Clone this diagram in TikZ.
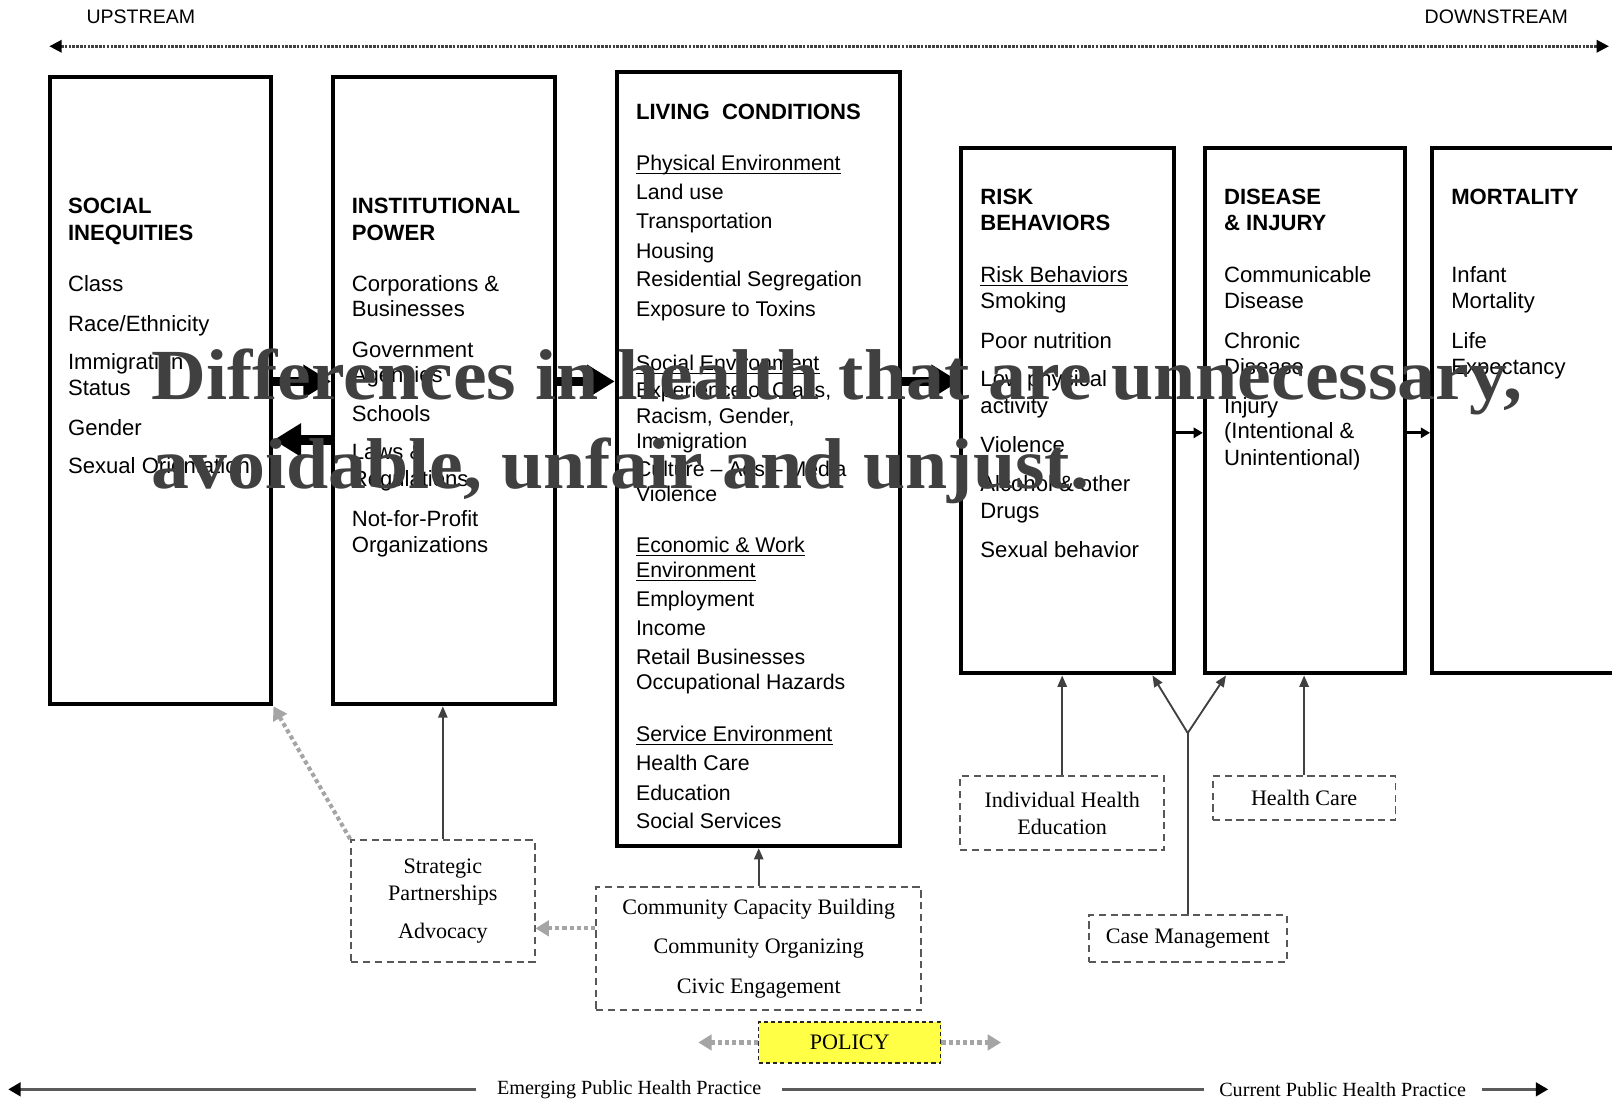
\documentclass[tikz,border=0pt]{standalone}
\usepackage{fontspec}
\usepackage{graphicx}
\setmainfont{Liberation Serif}
\newfontfamily\sansfam{Liberation Sans}
\usetikzlibrary{arrows.meta}

\definecolor{inkgray}{RGB}{64,64,64}
\definecolor{boxdash}{RGB}{88,88,88}
\definecolor{dotgray}{RGB}{165,165,165}
\definecolor{linegray}{RGB}{90,90,90}
\definecolor{policyfill}{RGB}{255,255,70}
\definecolor{claimgray}{RGB}{64,64,64}

\newcommand{\bodyfont}{\sansfam\fontsize{21.5}{26}\selectfont}
\newcommand{\livingfont}{\sansfam\fontsize{20.7}{26}\selectfont}
\newcommand{\serifbox}{\rmfamily\fontsize{21.5}{26}\selectfont}

\begin{document}
\begin{tikzpicture}[x=1pt,y=-1pt,
  stagebox/.style={draw=black, line width=4pt, inner sep=0pt, outer sep=2pt},
  txt/.style={anchor=base west, inner sep=0pt, font=\bodyfont},
  ltxt/.style={anchor=base west, inner sep=0pt, font=\livingfont},
  uline/.style={line width=1.1pt},
  bigarrow/.style={line width=9pt, -{Triangle[length=27pt,width=31pt]}},
  smallarrow/.style={line width=2.6pt, -{Triangle[length=9pt,width=10pt]}},
  conn/.style={draw=inkgray, line width=1.8pt, -{Triangle[length=11pt,width=9pt]}},
  connline/.style={draw=inkgray, line width=1.8pt},
  dotarrow/.style={draw=dotgray, line width=4pt, dash pattern=on 4pt off 3pt,
    -{Triangle[length=13pt,width=15pt]}},
  actbox/.style={draw=boxdash, line width=1.8pt, dash pattern=on 7pt off 4.5pt,
    align=center, inner sep=0pt, font=\serifbox},
  rail/.style={draw=linegray, line width=3.5pt},
  railtip/.style={-{Triangle[length=12pt,width=13pt,color=black]}},
  railtext/.style={font=\rmfamily\fontsize{19.6}{22}\selectfont, inner ysep=0pt},
  streamlbl/.style={font=\sansfam\fontsize{19}{22}\selectfont, inner sep=0pt},
  claim/.style={anchor=base west, inner sep=0pt, text=claimgray,
    font=\rmfamily\bfseries\fontsize{70}{80}\selectfont}
]
\useasboundingbox (0,0) rectangle (1568,1072);
\clip (0,0) rectangle (1568,1072);

% ---- upstream / downstream axis
\coordinate (upL) at (48,45);
\coordinate (upR) at (1565,45);
\draw[draw=inkgray, line width=2.4pt, dash pattern=on 2.5pt off 1.2pt,
  {Triangle[length=12pt,width=12pt,color=black]}-{Triangle[length=12pt,width=12pt,color=black]}]
  (upL) -- (upR);
\node[streamlbl] (up) at (137,16) {UPSTREAM};
\node[streamlbl] (down) at (1455.5,16) {DOWNSTREAM};

% ---- the six stages
\node[stagebox, minimum width=215pt, minimum height=610pt] (b1) at (156.5,380) {};
\node[stagebox, minimum width=216pt, minimum height=610pt] (b2) at (432,380) {};
\node[stagebox, minimum width=275pt, minimum height=753pt] (b3) at (737.5,446.5) {};
\node[stagebox, minimum width=207pt, minimum height=511pt] (b4) at (1038.5,399.5) {};
\node[stagebox, minimum width=195pt, minimum height=511pt] (b5) at (1269.5,399.5) {};
\node[stagebox, minimum width=230pt, minimum height=511pt] (b6) at (1508,399.5) {};

% Social inequities
\foreach[count=\i] \y/\lbl in {207.5/{\bfseries SOCIAL}, 233.5/{\bfseries INEQUITIES},
  283.5/Class, 322/{Race/Ethnicity}, 359/Immigration, 385/Status, 423.5/Gender,
  461/{Sexual Orientation}}
  \node[txt] (si\i) at (66,\y) {\lbl};

% Institutional power
\foreach[count=\i] \y/\lbl in {207.5/{\bfseries INSTITUTIONAL}, 233.5/{\bfseries POWER},
  283.5/{Corporations \&}, 308/Businesses, 348/Government, 372.5/Agencies,
  409.5/Schools, 447/{Laws \&}, 473/Regulations, 512/Not-for-Profit, 537/Organizations}
  \node[txt] (ip\i) at (342,\y) {\lbl};

% Living conditions
\node[anchor=base west, inner sep=0pt, font=\sansfam\bfseries\fontsize{21.5}{26}\selectfont]
  (lchead) at (618.5,116.5) {LIVING\ \ CONDITIONS};
\foreach[count=\i] \y/\lbl/\u in {165.5/Physical Environment/1, 194.5/Land use/0,
  222.5/Transportation/0, 251/Housing/0, 279/Residential Segregation/0,
  308/Exposure to Toxins/0, 360/Social Environment/1, 387/{Experience of Class,}/0,
  411.5/{Racism, Gender,}/0, 436.5/Immigration/0, 463/{Culture – Ads – Media}/0,
  488/Violence/0, 537.5/{Economic \& Work}/1, 561.5/Environment/1,
  590/Employment/0, 618.5/Income/0, 646.5/Retail Businesses/0,
  670.5/Occupational Hazards/0, 721.5/Service Environment/1, 749/Health Care/0,
  778.5/Education/0, 805.5/Social Services/0}
{
  \node[ltxt] (lc\i) at (618.5,\y) {\lbl};
  \ifnum\u=1
    \draw[uline] ([yshift=-3pt]lc\i.base west) -- ([yshift=-3pt]lc\i.base east);
  \fi
}

% Risk behaviors
\foreach[count=\i] \y/\lbl/\u in {199/{\bfseries RISK}/0, 224/{\bfseries BEHAVIORS}/0,
  275/Risk Behaviors/1, 300.5/Smoking/0, 338.5/Poor nutrition/0,
  375.5/Low physical/0, 402/activity/0, 440/Violence/0, 478/{Alcohol \& other}/0,
  504/Drugs/0, 542.5/Sexual behavior/0}
{
  \node[txt] (rb\i) at (953.5,\y) {\lbl};
  \ifnum\u=1
    \draw[uline] ([yshift=-3pt]rb\i.base west) -- ([yshift=-3pt]rb\i.base east);
  \fi
}

% Disease and injury
\foreach[count=\i] \y/\lbl in {199/{\bfseries DISEASE}, 224/{\bfseries \& INJURY},
  275/Communicable, 300.5/Disease, 338.5/Chronic, 364/Disease, 402/Injury,
  426.5/(Intentional \&, 452.5/Unintentional)}
  \node[txt] (di\i) at (1190.5,\y) {\lbl};

% Mortality
\foreach[count=\i] \y/\lbl in {199/{\bfseries MORTALITY}, 275/Infant, 300.5/Mortality,
  338.5/Life, 364/Expectancy}
  \node[txt] (mo\i) at (1411.5,\y) {\lbl};

% ---- flow between stages
\coordinate (yR) at (0,371);
\coordinate (yL) at (0,428);
\coordinate (yS) at (0,421);
\draw[bigarrow] (b1.east |- yR) -- (b2.west |- yR);
\draw[bigarrow] (b2.west |- yL) -- (b1.east |- yL);
\draw[bigarrow] (b2.east |- yR) -- (b3.west |- yR);
\draw[bigarrow] (b3.east |- yR) -- (b4.west |- yR);
\draw[smallarrow] (b4.east |- yS) -- (b5.west |- yS);
\draw[smallarrow] (b5.east |- yS) -- (b6.west |- yS);

% ---- interventions
\node[actbox, minimum width=178.5pt, minimum height=118.5pt] (sp) at (430.75,876.25)
  {Strategic\\Partnerships\\[11pt]Advocacy};
\node[actbox, minimum width=316pt, minimum height=119.5pt, font=\rmfamily\fontsize{21.5}{38.5}\selectfont]
  (cb) at (738,922.75)
  {Community Capacity Building\\Community Organizing\\Civic Engagement};
\node[actbox, minimum width=198.4pt, minimum height=71.8pt] (ih) at (1033.2,790.9)
  {Individual Health\\Education};
\node[actbox, minimum width=177.7pt, minimum height=42.7pt] (hc) at (1268.5,776.35)
  {Health Care};
\node[actbox, minimum width=192.6pt, minimum height=45.5pt] (cm) at (1155.3,912.75)
  {Case Management};
\node[actbox, draw=black!85, fill=policyfill, dash pattern=on 4pt off 3pt, line width=1.5pt,
  minimum width=177pt, minimum height=40pt] (pol) at (826.5,1014) {POLICY};

\draw[conn] (sp.north) -- (sp.north |- b2.south);
\draw[conn] (cb.north) -- (cb.north |- b3.south);
\draw[conn] (ih.north) -- (ih.north |- b4.south);
\draw[conn] (hc.north) -- (hc.north |- b5.south);

\coordinate (fork) at (cm.north |- 0,713);
\path (b4.south) ++(82.5,0) coordinate (tipL);
\path (b5.south) ++(-77,0) coordinate (tipR);
\draw[connline] (cm.north) -- (fork);
\draw[conn] (fork) -- (tipL);
\draw[conn] (fork) -- (tipR);

\draw[dotarrow] (sp.north west) -- (b1.south east);
\coordinate (yAdv) at (0,903);
\draw[dotarrow] (cb.west |- yAdv) -- (sp.east |- yAdv);
\path (pol.west) ++(-58,0) coordinate (polL);
\path (pol.east) ++(58,0) coordinate (polR);
\draw[dotarrow] (pol.west) -- (polL);
\draw[dotarrow] (pol.east) -- (polR);

% ---- practice axis
\node[railtext, inner xsep=20pt] (emerg) at (612,1059.6) {Emerging Public Health Practice};
\node[railtext, inner xsep=15pt] (curr) at (1306,1059.6) {Current Public Health Practice};
\coordinate (railL) at (8,1059.6);
\coordinate (railR) at (1506,1059.6);
\draw[rail, railtip] (emerg.west) -- (railL);
\draw[rail] (emerg.east) -- (curr.west);
\draw[rail, railtip] (curr.east) -- (railR);

% ---- headline statement across the chart
\node[claim] (claim1) at (147,389)
  {\scalebox{1.054}[1]{Differences in health that are unnecessary,}};
\node[claim] (claim2) at (147,475)
  {\scalebox{1.054}[1]{avoidable, unfair and unjust.}};
\end{tikzpicture}
\end{document}
